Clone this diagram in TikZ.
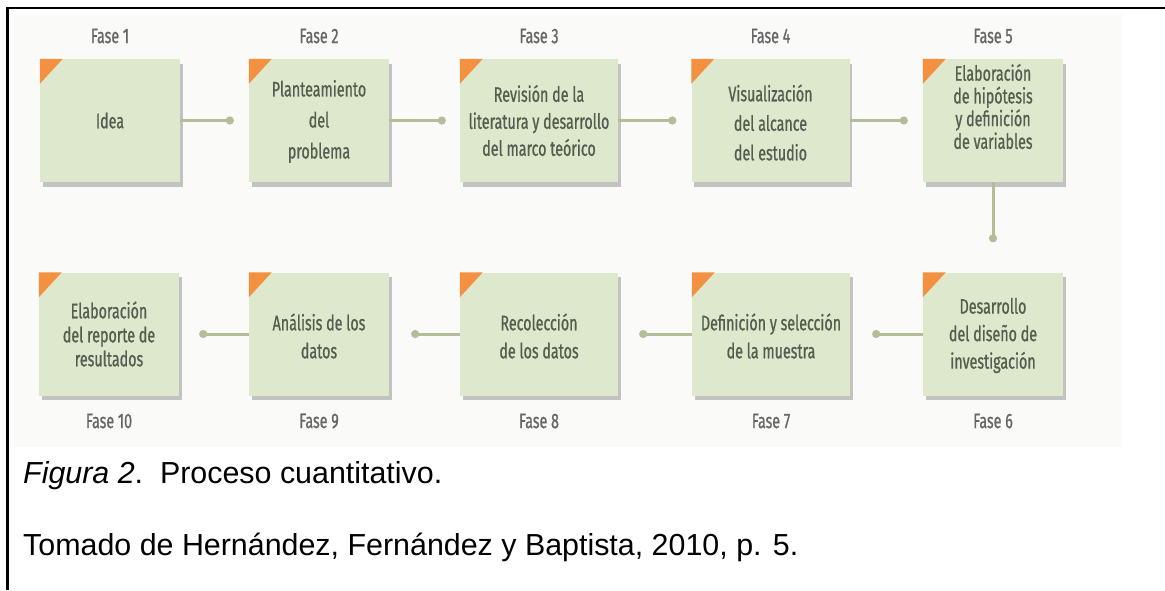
\documentclass[tikz,border=0pt]{standalone}
\usepackage{fontspec}
\setmainfont{Liberation Sans}
\newfontfamily\cond[FakeStretch=0.68,FakeBold=0.8]{Fira Sans}
\usetikzlibrary{shadows,calc,arrows.meta}
\definecolor{boxfill}{HTML}{DDE8CC}
\definecolor{cornerc}{HTML}{F39141}
\definecolor{txtc}{HTML}{545E50}
\definecolor{fasec}{HTML}{666666}
\definecolor{connc}{HTML}{B3BE98}
\definecolor{bgc}{HTML}{FAFAF9}
\begin{document}
\begin{tikzpicture}[x=1pt,y=-1pt,
  box/.style={fill=boxfill, minimum height=123pt, inner sep=0pt,
    drop shadow={shadow xshift=2.5pt, shadow yshift=-4.5pt, fill=black!45, opacity=0.5}},
  wbox/.style={box, minimum width=158pt},
  nbox/.style={box, minimum width=140pt},
  txt/.style={text=txtc, align=center, inner sep=0pt},
  fase/.style={text=fasec, inner sep=0pt, font=\cond\fontsize{21}{24}\selectfont},
  conn/.style={draw=connc, line width=3pt, -{Circle[length=8pt]}},
  corner/.style={fill=cornerc},
  capt/.style={anchor=base west, inner sep=0pt, font=\fontsize{30.4}{36}\selectfont}]
\useasboundingbox (0,0) rectangle (1165,590);
\fill[bgc] (14,14) rectangle (1122,447);
% row 1
\node[nbox] (b1) at (110,120.5) {};
\node[nbox] (b2) at (319,120.5) {};
\node[wbox] (b3) at (539,120.5) {};
\node[wbox] (b4) at (770.5,120.5) {};
\node[nbox] (b5) at (993,120.5) {};
% row 2
\node[nbox] (b6) at (993,334) {};
\node[wbox] (b7) at (771,334) {};
\node[wbox] (b8) at (539,334) {};
\node[nbox] (b9) at (319,334) {};
\node[nbox] (b10) at (109,334) {};
\foreach \b in {b1,b2,b3,b4,b5,b6,b7,b8,b9,b10}
  \fill[corner] (\b.north west) -- ++(23,0) -- ++(-23,25) -- cycle;
% texts
\node[txt, font=\cond\fontsize{21}{28}\selectfont] (t1) at (b1.center) {Idea};
\node[txt, font=\cond\fontsize{21}{31}\selectfont] (t2) at ($(b2.center)+(0,1)$) {Planteamiento\\del\\problema};
\node[txt, font=\cond\fontsize{21}{27}\selectfont] (t3) at ($(b3.center)+(0,0)$) {Revisión de la\\literatura y desarrollo\\del marco teórico};
\node[txt, font=\cond\fontsize{21}{29.5}\selectfont] (t4) at ($(b4.center)+(0,2)$) {Visualización\\del alcance\\del estudio};
\node[txt, font=\cond\fontsize{21}{22.7}\selectfont] (t5) at ($(b5.center)+(0,-14)$) {Elaboración\\de hipótesis\\y definición\\de variables};
\node[txt, font=\cond\fontsize{21}{27.5}\selectfont] (t6) at ($(b6.center)+(0,1.5)$) {Desarrollo\\del diseño de\\investigación};
\node[txt, font=\cond\fontsize{21}{28}\selectfont] (t7) at ($(b7.center)+(0,2)$) {Definición y selección\\de la muestra};
\node[txt, font=\cond\fontsize{21}{28}\selectfont] (t8) at ($(b8.center)+(0,2)$) {Recolección\\de los datos};
\node[txt, font=\cond\fontsize{21}{28}\selectfont] (t9) at ($(b9.center)+(0,2)$) {Análisis de los\\datos};
\node[txt, font=\cond\fontsize{21}{24}\selectfont] (t10) at ($(b10.center)+(0,0)$) {Elaboración\\del reporte de\\resultados};
% phase labels
\node[fase] (f1) at (b1.center |- 0,36) {Fase 1};
\node[fase] (f2) at (b2.center |- 0,36) {Fase 2};
\node[fase] (f3) at (b3.center |- 0,36) {Fase 3};
\node[fase] (f4) at (b4.center |- 0,36) {Fase 4};
\node[fase] (f5) at (b5.center |- 0,36) {Fase 5};
\node[fase] (f6) at (b6.center |- 0,421) {Fase 6};
\node[fase] (f7) at (b7.center |- 0,421) {Fase 7};
\node[fase] (f8) at (b8.center |- 0,421) {Fase 8};
\node[fase] (f9) at (b9.center |- 0,421) {Fase 9};
\node[fase] (f10) at (b10.center |- 0,421) {Fase 10};
% connectors
\coordinate (d2) at ($(b2.west)+(-15,0)$);
\coordinate (d3) at ($(b3.west)+(-14,0)$);
\coordinate (d4) at ($(b4.west)+(-15,0)$);
\coordinate (d5) at ($(b5.west)+(-15,0)$);
\coordinate (d6) at ($(b6.north)+(0,-30)$);
\coordinate (d7) at ($(b7.east)+(22,0)$);
\coordinate (d8) at ($(b8.east)+(21,0)$);
\coordinate (d9) at ($(b9.east)+(22,0)$);
\coordinate (d10) at ($(b10.east)+(20,0)$);
\draw[conn] (b1.east) -- (d2);
\draw[conn] (b2.east) -- (d3);
\draw[conn] (b3.east) -- (d4);
\draw[conn] (b4.east) -- (d5);
\draw[conn] (b5.south) -- (d6);
\draw[conn] (b6.west) -- (d7);
\draw[conn] (b7.west) -- (d8);
\draw[conn] (b8.west) -- (d9);
\draw[conn] (b9.west) -- (d10);
% frame
\draw[line width=2.5pt] (1165,8) -- (7.5,8) -- (7.5,590);
% caption
\node[capt] (cap) at (23,483) {\textit{Figura 2}.\ \ Proceso cuantitativo.};
\node[capt] (src) at (23,555) {Tomado de Hernández, Fernández y Baptista, 2010, p. 5.};
\end{tikzpicture}
\end{document}
